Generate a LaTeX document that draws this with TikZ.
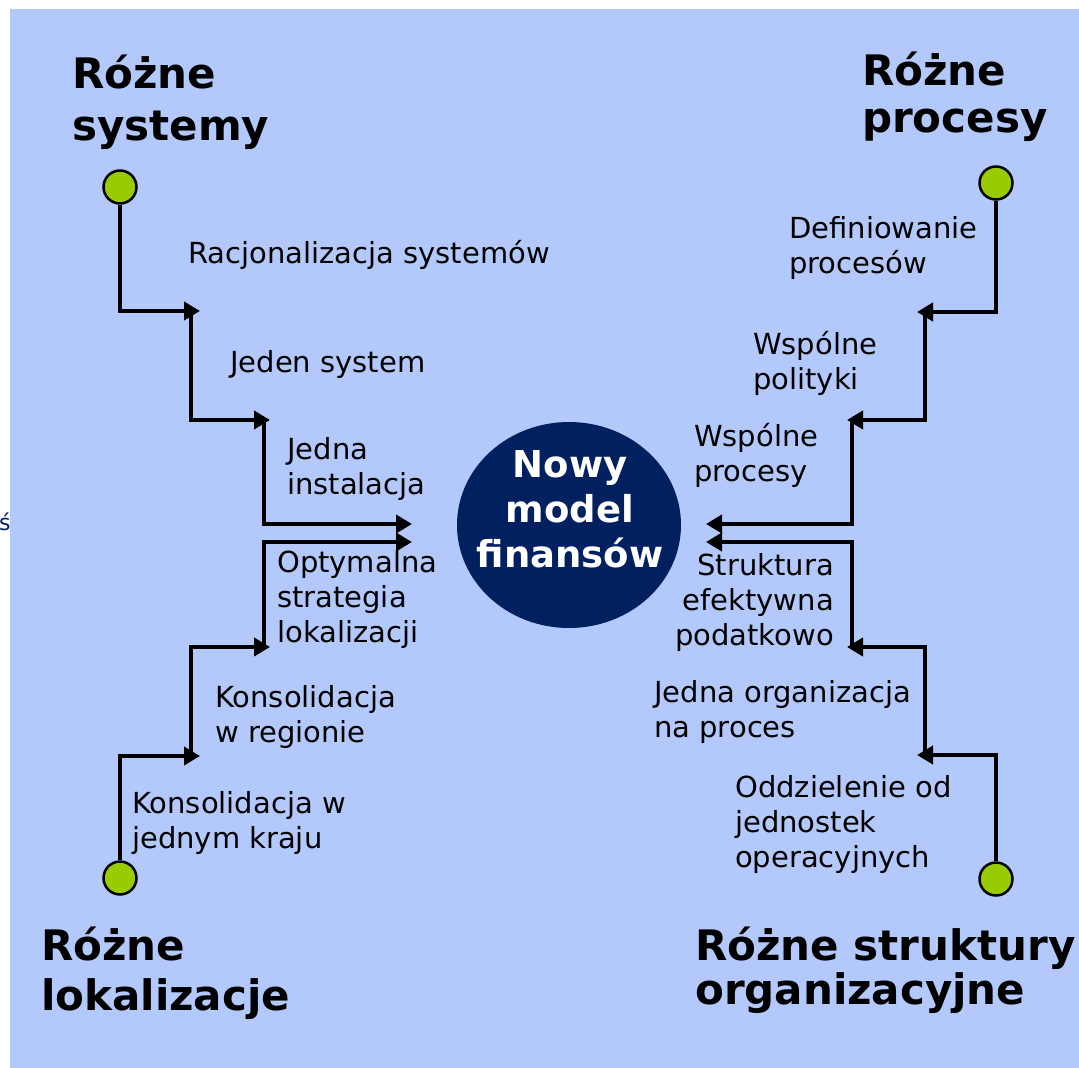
\documentclass[tikz,border=0pt]{standalone}
\usepackage{fontspec}
\setmainfont{DejaVu Sans}
\usetikzlibrary{arrows.meta,shapes.geometric}
\definecolor{bgblue}{RGB}{179,201,252}
\definecolor{navy}{RGB}{0,32,96}
\definecolor{dotgreen}{RGB}{153,204,0}
\newcommand\lstack[2][l]{\begin{tabular}[t]{@{}#1@{}}#2\end{tabular}}
\begin{document}
\begin{tikzpicture}[x=1pt,y=-1pt,
  lab/.style={inner sep=0, font=\fontsize{29}{35}\selectfont, anchor=base west},
  labr/.style={inner sep=0, font=\fontsize{29}{35}\selectfont, anchor=base east},
  ttl/.style={inner sep=0, font=\fontsize{42}{52}\selectfont\bfseries, anchor=base west},
  dot/.style={circle, draw=black, line width=2.5pt, fill=dotgreen, minimum size=33pt, inner sep=0},
  flow/.style={line width=4.5pt, -{Triangle[length=16pt,width=18pt]}}]
\useasboundingbox (0,0) rectangle (1079,1068);
\fill[bgblue] (10,9) rectangle (1079,1068);
\node (frag) [anchor=base west, inner sep=0, text=navy, font=\fontsize{22}{26}\selectfont] at (-1,530) {ś};

% centre
\node (hub) [ellipse, fill=navy, minimum width=224pt, minimum height=206pt, inner sep=0] at (569,525) {};
\node (hubtxt) [anchor=base, inner sep=0, text=white, font=\fontsize{37}{45}\selectfont\bfseries] at (570,477) {\lstack[c]{Nowy\\model\\finansów}};

% titles
\node (t1a) [ttl] at (72,88) {Różne};
\node (t1b) [ttl] at (72,140) {systemy};
\node (t2a) [ttl] at (862,85) {Różne};
\node (t2b) [ttl] at (862,132) {procesy};
\node (t3a) [ttl] at (41,960) {Różne};
\node (t3b) [ttl] at (41,1010) {lokalizacje};
\node (t4a) [ttl] at (695,960) {Różne struktury};
\node (t4b) [ttl] at (695,1004) {organizacyjne};

% dots
\node (dTL) [dot] at (120,187) {};
\node (dBL) [dot] at (120,878) {};
\node (dTR) [dot] at (996,183) {};
\node (dBR) [dot] at (996,879) {};

% coordinates
\coordinate (a1) at (200,311); \coordinate (b1) at (191,311);
\coordinate (a2) at (270,420); \coordinate (b2) at (264,420);
\coordinate (a3) at (412,524);
\coordinate (a4) at (200,756); \coordinate (b4) at (191,756);
\coordinate (a5) at (270,647); \coordinate (b5) at (264,647);
\coordinate (a6) at (412,542);
\coordinate (a7) at (917,312); \coordinate (b7) at (925,312);
\coordinate (a8) at (847,420); \coordinate (b8) at (852,420);
\coordinate (a9) at (706,524);
\coordinate (a10) at (917,755); \coordinate (b10) at (925,755);
\coordinate (a11) at (847,647); \coordinate (b11) at (852,647);
\coordinate (a12) at (706,542);

% connectors
\draw[flow] (dTL) |- (a1);
\draw[flow] (b1) |- (a2);
\draw[flow] (b2) |- (a3);
\draw[flow] (dBL) |- (a4);
\draw[flow] (b4) |- (a5);
\draw[flow] (b5) |- (a6);
\draw[flow] (dTR) |- (a7);
\draw[flow] (b7) |- (a8);
\draw[flow] (b8) |- (a9);
\draw[flow] (dBR) |- (a10);
\draw[flow] (b10) |- (a11);
\draw[flow] (b11) |- (a12);

% labels
\node (l1) [lab] at (188,263) {Racjonalizacja systemów};
\node (l2) [lab] at (230,372) {Jeden system};
\node (l3) [lab] at (287,459) {\lstack{Jedna\\instalacja}};
\node (l4) [lab] at (277,572) {\lstack{Optymalna\\strategia\\lokalizacji}};
\node (l5) [lab] at (215,707) {\lstack{Konsolidacja\\w regionie}};
\node (l6) [lab] at (132,813) {\lstack{Konsolidacja w\\jednym kraju}};
\node (r1) [lab] at (789,238) {\lstack{Definiowanie\\procesów}};
\node (r2) [lab] at (753,354) {\lstack{Wspólne\\polityki}};
\node (r3) [lab] at (694,446) {\lstack{Wspólne\\procesy}};
\node (r4) [labr] at (834,575) {\lstack[r]{Struktura\\efektywna\\podatkowo}};
\node (r5) [lab] at (654,702) {\lstack{Jedna organizacja\\na proces}};
\node (r6) [lab] at (735,797) {\lstack{Oddzielenie od\\jednostek\\operacyjnych}};
\end{tikzpicture}
\end{document}
